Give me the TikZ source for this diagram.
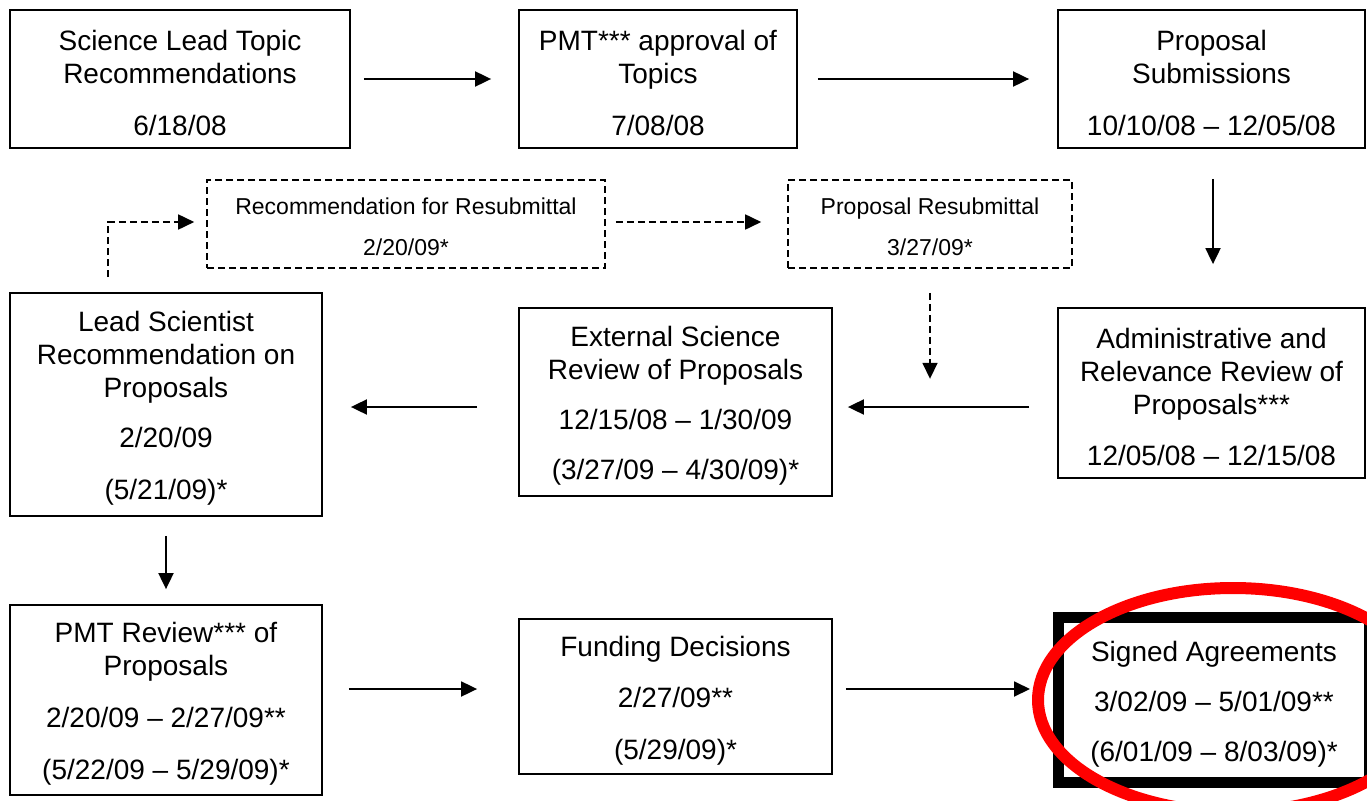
\documentclass[tikz,border=0pt]{standalone}
\usepackage{fontspec}
\setmainfont{Liberation Sans}
\usetikzlibrary{arrows.meta,calc}
\newcommand{\tstrut}{\rule{0pt}{28.5pt}}
\newcommand{\dstrut}{\rule{0pt}{22pt}}
\begin{document}
\begin{tikzpicture}[x=1pt,y=-1pt,
  box/.style={draw,line width=1.8pt,inner sep=0pt,align=center,
    font=\fontsize{28}{33}\selectfont},
  dbox/.style={draw,line width=1.6pt,dash pattern=on 7pt off 4pt,inner sep=0pt,align=center,
    font=\fontsize{23}{27}\selectfont},
  arr/.style={line width=1.9pt,-{Triangle[length=16pt,width=15pt]}},
  darr/.style={line width=1.7pt,dash pattern=on 7pt off 4pt,-{Triangle[length=16pt,width=15pt]}}]
\useasboundingbox (0,0) rectangle (1367,800);
\clip (0,0) rectangle (1367,800);
\fill[white] (0,0) rectangle (1367,800);

\node[box,minimum width=340pt,minimum height=138pt] (A) at (180,79)
  {\tstrut Science Lead Topic\\Recommendations\\[19pt]6/18/08};
\node[box,minimum width=278pt,minimum height=138pt] (B) at (658,79)
  {\tstrut PMT*** approval of\\Topics\\[19pt]7/08/08};
\node[box,minimum width=307pt,minimum height=138pt] (C) at (1211.5,79)
  {\tstrut Proposal\\Submissions\\[19pt]10/10/08 – 12/05/08};

\node[dbox,minimum width=398pt,minimum height=88pt] (D) at (406,224)
  {\dstrut Recommendation for Resubmittal\\[14pt]2/20/09*};
\node[dbox,minimum width=284pt,minimum height=88pt] (E) at (930,224)
  {\dstrut Proposal Resubmittal\\[14pt]3/27/09*};

\node[box,minimum width=312pt,minimum height=223pt] (F) at (166,404.5)
  {\tstrut Lead Scientist\\Recommendation on\\Proposals\\[17pt]2/20/09\\[19pt](5/21/09)*};
\node[box,minimum width=313pt,minimum height=188pt] (G) at (675.5,402)
  {\tstrut External Science\\Review of Proposals\\[17pt]12/15/08 – 1/30/09\\[17pt](3/27/09 – 4/30/09)*};
\node[box,minimum width=307pt,minimum height=170pt] (H) at (1211.5,393)
  {\tstrut Administrative and\\Relevance Review of\\Proposals***\\[18pt]12/05/08 – 12/15/08};

\node[box,minimum width=312pt,minimum height=190pt] (I) at (166,700)
  {\tstrut PMT Review*** of\\Proposals\\[19pt]2/20/09 – 2/27/09**\\[19pt](5/22/09 – 5/29/09)*};
\node[box,minimum width=313pt,minimum height=155pt] (J) at (675.5,696.5)
  {\tstrut Funding Decisions\\[18pt]2/27/09**\\[19pt](5/29/09)*};
\node[box,line width=11pt,minimum width=311pt,minimum height=165pt] (K) at (1214,700)
  {\tstrut Signed Agreements\\[17pt]3/02/09 – 5/01/09**\\[17pt](6/01/09 – 8/03/09)*};

\draw[arr,shorten <=13pt,shorten >=27pt] (A.east) -- (B.west);
\draw[arr,shorten <=20pt,shorten >=28pt] (B.east) -- (C.west);
\draw[arr] ($(C.south)+(1.5,30)$) -- ($(H.north)+(1.5,-43)$);
\draw[arr] ($(H.west)+(-28,14)$) -- ($(G.east)+(15,5)$);
\draw[arr] ($(G.west)+(-41,5)$) -- ($(F.east)+(28,2.5)$);
\draw[arr,shorten <=19pt,shorten >=15pt] (F.south) -- (I.north);
\draw[arr] ($(I.east)+(26,-11)$) -- ($(J.west)+(-41,-7.5)$);
\draw[arr] ($(J.east)+(13,-7.5)$) -- ($(K.west)+(-23,-11)$);

\draw[darr] ($(F.north)+(-58,-15)$) |- ($(D.west)+(-12,-2)$);
\draw[darr] ($(D.east)+(10,-2)$) -- ($(E.west)+(-26,-2)$);
\coordinate (Etip) at ($(E.south)+(0,110)$);
\draw[darr] ($(E.south)+(0,24)$) -- (Etip);

\draw[red,line width=12pt] ($(K.center)+(19,0)$) ellipse [x radius=195, y radius=112];
\end{tikzpicture}
\end{document}
